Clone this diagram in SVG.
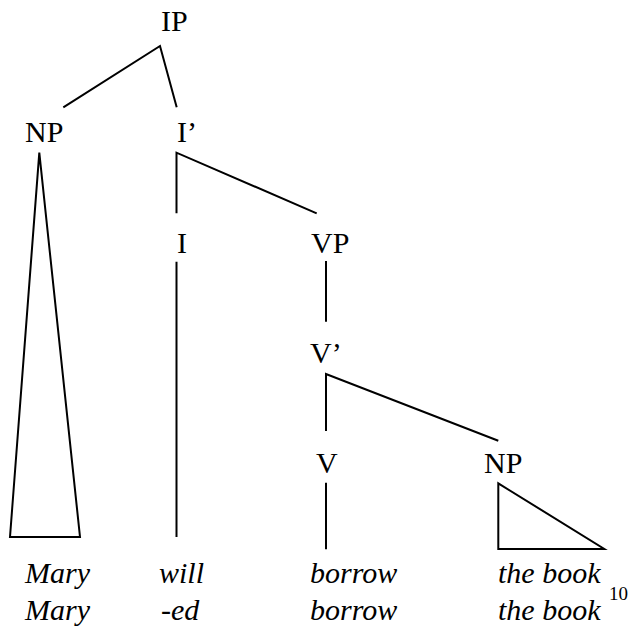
<svg xmlns="http://www.w3.org/2000/svg" width="633" height="630" viewBox="0 0 633 630">
<style>
text { font-family: "Liberation Serif", "Times New Roman", serif; font-size: 30px; fill: #000; }
.w { font-style: italic; }
.sup { font-size: 19px; font-style: normal; }
.e { stroke: #000; stroke-width: 2; fill: none; stroke-linecap: butt; stroke-linejoin: miter; }
</style>
<rect width="633" height="630" fill="#fff"/>
<g id="connectors">
  <path class="e" d="M63.3,107.3 L160,46 L176.7,107.3"/>
  <path class="e" d="M176.5,213.3 L176.5,152.7 L316.7,213.3"/>
  <path class="e" d="M176.5,261.7 L176.5,537"/>
  <path class="e" d="M326,261 L326,321.7"/>
  <path class="e" d="M326,431 L326,374 L498.3,440.7"/>
  <path class="e" d="M326,482.7 L326,549.3"/>
  <polygon class="e" points="39.3,152.7 10,537 80,537"/>
  <polygon class="e" points="498.3,483.3 498.3,549 604.3,549"/>
</g>
<g id="IP"><text x="161" y="31">IP</text></g>
<g id="NP1"><text x="25" y="142">NP</text></g>
<g id="Ibar"><text x="177" y="142">I’</text></g>
<g id="I"><text x="177" y="253">I</text></g>
<g id="VP"><text x="311" y="253">VP</text></g>
<g id="Vbar"><text x="310" y="363">V’</text></g>
<g id="V"><text x="316" y="473">V</text></g>
<g id="NP2"><text x="484" y="473">NP</text></g>
<g id="words">
  <text class="w" x="25" y="583">Mary</text>
  <text class="w" x="159" y="583">will</text>
  <text class="w" x="310" y="583">borrow</text>
  <text class="w" x="498" y="583">the book</text>
  <text class="w" x="25" y="620">Mary</text>
  <text class="w" x="161" y="620">-ed</text>
  <text class="w" x="310" y="620">borrow</text>
  <text class="w" x="498" y="620">the book<tspan class="sup" x="609" y="600">10</tspan></text>
</g>
</svg>
